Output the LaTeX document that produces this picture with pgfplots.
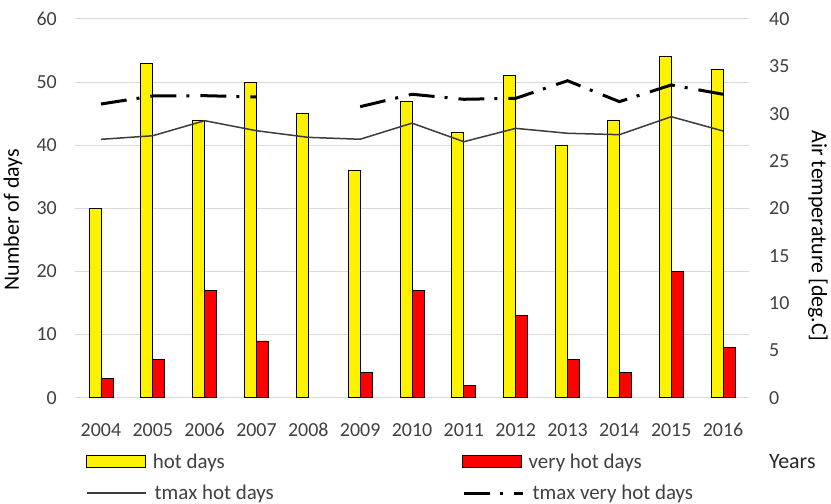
\documentclass[border=0pt]{standalone}
\usepackage{fontspec}
\setmainfont{Carlito}
\usepackage{pgfplots}
\pgfplotsset{compat=1.18}
\definecolor{tickc}{RGB}{64,64,64}
\definecolor{gridc}{RGB}{217,217,217}
\definecolor{linec}{RGB}{60,60,60}
\pgfplotsset{
  base/.style={
    scale only axis, width=674bp, height=378.7bp,
    xmin=-0.5, xmax=12.5,
    /pgf/number format/assume math mode=true,
    tick style={draw=none},
    axis line style={draw=none},
    ticklabel style={font=\fontsize{20}{24}\selectfont, text=tickc, inner sep=0pt},
    label style={font=\fontsize{22}{26}\selectfont, inner sep=0pt},
    legend columns=2,
    legend style={draw=none, fill=none, inner sep=0pt,
      at={(0,0)}, anchor=west, xshift=11bp,
      nodes={inner sep=0pt, font=\fontsize{21}{25}\selectfont, text=tickc}},
  },
  boxlegend/.style={legend image code/.code={\draw[##1] (0bp,-6bp) rectangle (59bp,6bp); \path (66bp,0bp);}},
  linelegend/.style={legend image code/.code={\draw[##1] (0bp,0bp) -- (59bp,0bp); \path (67bp,0bp);}},
}
\begin{document}
\begin{tikzpicture}
\path[use as bounding box] (-75bp,-106.3bp) rectangle (756bp,397.7bp);
\begin{axis}[base,
  ybar=0pt, bar width=12bp,
  ymin=0, ymax=60, ytick={0,10,...,60},
  ymajorgrids, grid style={gridc, line width=1bp},
  xtick={0,...,12},
  xticklabels={2004,2005,2006,2007,2008,2009,2010,2011,2012,2013,2014,2015,2016},
  xticklabel style={yshift=-21bp},
  yticklabel style={xshift=-18bp},
  ylabel={Number of days},
  ylabel style={at={([xshift=-62bp]axis description cs:0,0.47)}, anchor=center},
  xlabel={Years},
  xlabel style={at={(axis description cs:1,0)}, anchor=west, xshift=20bp, yshift=-64bp, text=black!85},
  legend style={yshift=-64bp},
]
\addplot[boxlegend, fill=yellow, draw=black, line width=0.75bp] coordinates {
(0,30) (1,53) (2,44) (3,50) (4,45) (5,36) (6,47) (7,42) (8,51) (9,40) (10,44) (11,54) (12,52)};
\addlegendentry{\makebox[309bp][l]{hot days}}
\addplot[boxlegend, fill=red, draw=black, line width=0.75bp] coordinates {
(0,3) (1,6) (2,17) (3,9) (5,4) (6,17) (7,2) (8,13) (9,6) (10,4) (11,20) (12,8)};
\addlegendentry{very hot days}
\end{axis}
\begin{axis}[base,
  ymin=0, ymax=40, ytick={0,5,...,40},
  axis y line*=right, axis x line=none,
  yticklabel style={xshift=20bp},
  ylabel={Air temperature [deg.C]},
  ylabel style={at={([xshift=69bp]axis description cs:1,0.427)}, anchor=center, rotate=180},
  unbounded coords=jump,
  legend style={yshift=-95.5bp},
]
\addplot[linelegend, linec, line width=1.5bp] coordinates {
(0,27.29) (1,27.67) (2,29.26) (3,28.2) (4,27.5) (5,27.3) (6,29.0) (7,27.04) (8,28.45) (9,27.93) (10,27.78) (11,29.68) (12,28.17)};
\addlegendentry{\makebox[308bp][l]{tmax hot days}}
\addplot[linelegend, black, line width=3bp, dash pattern=on 26bp off 10bp on 3bp off 11bp] coordinates {
(0,31.02) (1,31.87) (2,31.9) (3,31.76) (4,nan) (5,30.74) (6,32.05) (7,31.52) (8,31.62) (9,33.48) (10,31.27) (11,33.03) (12,32.05)};
\addlegendentry{tmax very hot days}
\end{axis}
\end{tikzpicture}
\end{document}
